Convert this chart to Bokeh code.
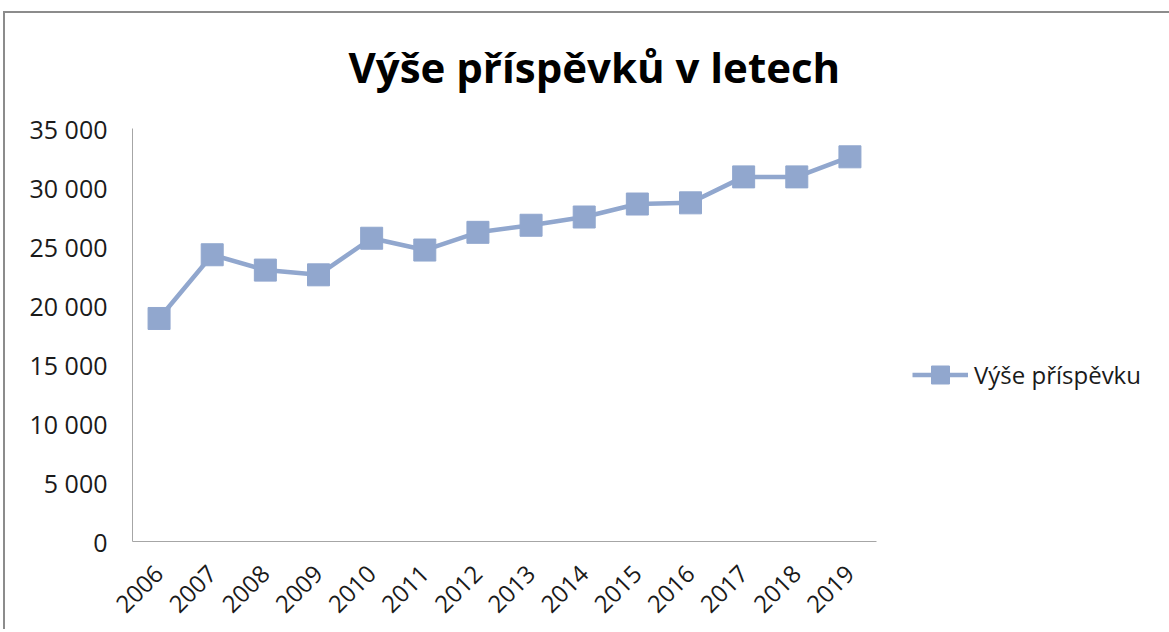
from math import pi
from bokeh.plotting import figure
from bokeh.models import Range1d, FixedTicker, Legend, LegendItem
from bokeh.embed import file_html
from bokeh.resources import INLINE

years = ["2006", "2007", "2008", "2009", "2010", "2011", "2012",
         "2013", "2014", "2015", "2016", "2017", "2018", "2019"]
values = [18900, 24300, 23000, 22600, 25700, 24700, 26200,
          26800, 27500, 28600, 28700, 30900, 30900, 32600]
y_ticks = [0, 5000, 10000, 15000, 20000, 25000, 30000, 35000]
y_tick_labels = ["0", "5 000", "10 000", "15 000", "20 000", "25 000", "30 000", "35 000"]
series_name = "Výše příspěvku"
title_text = "Výše příspěvků v letech"

color = "#91A7CE"
font = "Open Sans"
text_color = "#1a1a1a"
axis_color = "#a6a6a6"
frame_color = "#8c8c8c"

p = figure(x_range=years, y_range=Range1d(0, 35000),
           frame_width=744, frame_height=413, output_backend="svg", toolbar_location=None,
           min_border_left=132, min_border_right=270, min_border_top=128,
           min_border_bottom=88)
p.styles = {
    "background": (f"linear-gradient({frame_color},{frame_color}) 4px 11px / 100% 2px no-repeat, "
                   f"linear-gradient({frame_color},{frame_color}) 3px 11px / 2px 100% no-repeat, #ffffff"),
}
p.border_fill_alpha = 0
p.background_fill_color = "#ffffff"
p.x_range.range_padding = 0
p.outline_line_color = None
p.xgrid.grid_line_color = None
p.ygrid.grid_line_color = None

p.title.text = title_text
p.title.text_font = font
p.title.text_font_size = "42px"
p.title.text_font_style = "bold"
p.title.text_color = "#000000"
p.title.align = "left"
p.title.offset = 216
p.title.standoff = 67

ln = p.line(years, values, line_width=4.5, color=color)
sc = p.scatter(years, values, marker="square", size=22, color=color)

yaxis = p.yaxis[0]
yaxis.ticker = FixedTicker(ticks=y_ticks)
yaxis.major_label_overrides = {t: l for t, l in zip(y_ticks, y_tick_labels)}
yaxis.major_tick_line_color = None
yaxis.minor_tick_line_color = None
yaxis.axis_line_color = axis_color
yaxis.major_label_text_font = font
yaxis.major_label_text_font_size = "25px"
yaxis.major_label_text_color = text_color
yaxis.major_label_standoff = 19

xaxis = p.xaxis[0]
xaxis.major_tick_line_color = None
xaxis.minor_tick_line_color = None
xaxis.axis_line_color = axis_color
xaxis.major_label_text_font = font
xaxis.major_label_text_font_size = "24px"
xaxis.major_label_text_color = text_color
xaxis.major_label_orientation = pi / 4
xaxis.major_label_standoff = 22

legend = Legend(items=[LegendItem(label=series_name, renderers=[ln, sc])],
                location=(36, 144), glyph_width=56, glyph_height=45,
                label_standoff=6, padding=0, margin=0,
                border_line_color=None, background_fill_alpha=0,
                label_text_font=font, label_text_font_size="24px",
                label_text_color=text_color)
p.add_layout(legend, "right")

open("out.html", "w").write(file_html(p, INLINE))
